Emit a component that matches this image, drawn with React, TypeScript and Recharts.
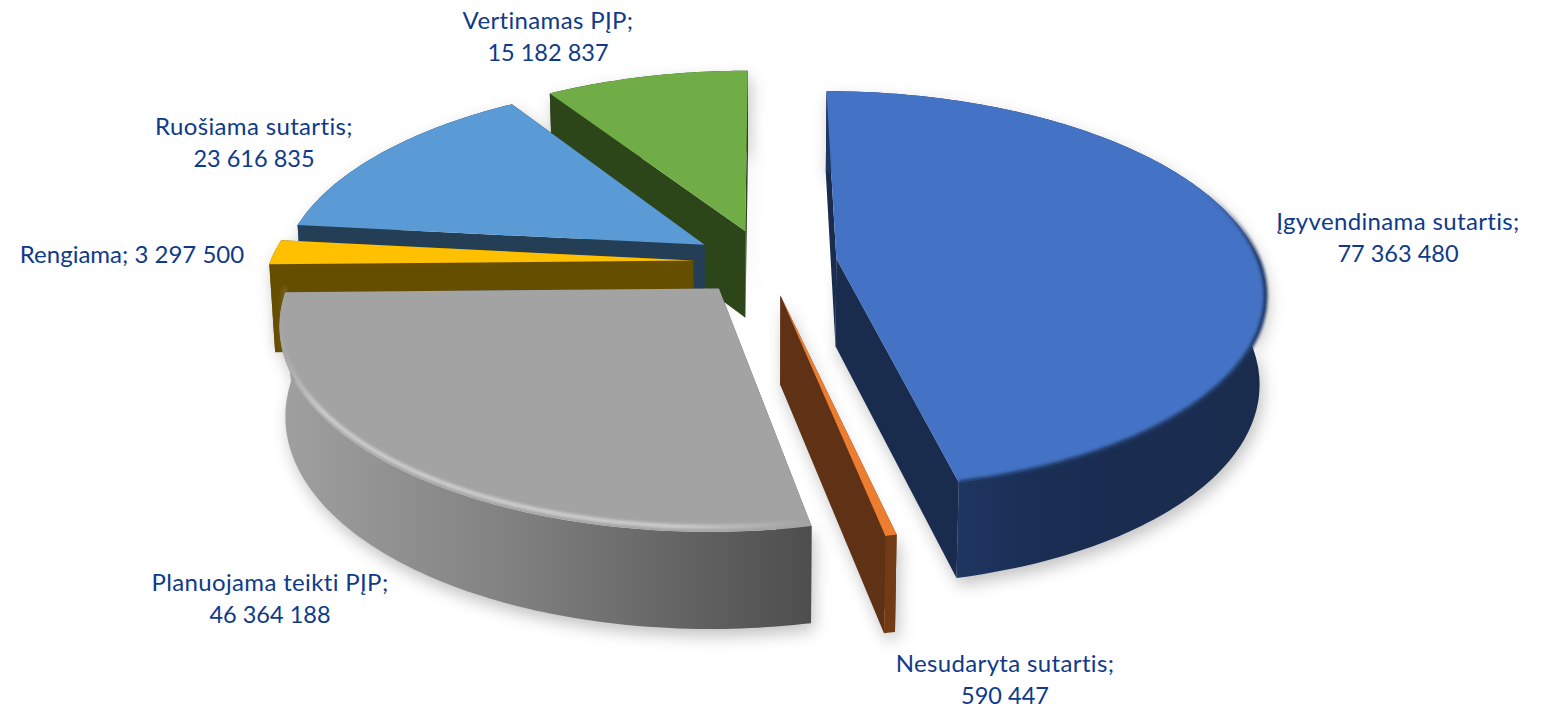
import { Pie, PieChart } from "recharts";

const names = [
  "Vertinamas PĮP",
  "Ruošiama sutartis",
  "Rengiama",
  "Planuojama teikti PĮP",
  "Nesudaryta sutartis",
  "Įgyvendinama sutartis",
];
const values = [15182837, 23616835, 3297500, 46364188, 590447, 77363480];

// look of each slice, by name
const sliceLook: Record<string, { top: string; cut: string; wall: string; rim?: string; rimInset?: number }> = {
  "Vertinamas PĮP": { top: "#70AD47", cut: "#2C4619", wall: "#2C4619" },
  "Ruošiama sutartis": { top: "#5B9BD5", cut: "#243F55", wall: "#243F55" },
  Rengiama: { top: "#FFC000", cut: "#664E00", wall: "#664E00" },
  "Planuojama teikti PĮP": { top: "#A3A3A3", cut: "#4F4F4F", wall: "url(#greyWall)", rim: "url(#greyRim)", rimInset: -5 },
  "Nesudaryta sutartis": { top: "#ED7D31", cut: "#5F3115", wall: "#723B15" },
  "Įgyvendinama sutartis": { top: "#4472C4", cut: "#1A2C4E", wall: "url(#blueWall)", rim: "url(#blueRim)", rimInset: 0 },
};

// label text placement: centre x, baseline y of first line
const labelSpots: Record<string, { x: number; y: number; oneLine?: boolean }> = {
  "Vertinamas PĮP": { x: 548, y: 29 },
  "Ruošiama sutartis": { x: 254, y: 135 },
  Rengiama: { x: 132, y: 263, oneLine: true },
  "Planuojama teikti PĮP": { x: 270, y: 591 },
  "Nesudaryta sutartis": { x: 1005, y: 672 },
  "Įgyvendinama sutartis": { x: 1398, y: 230 },
};

const EXPLODE = 72;
const DEPTH = 88;
const TILT = 0.461;
const PERSPECTIVE = 0.16;
const RAD = Math.PI / 180;

const chartData = names.map((name, i) => ({ name, value: values[i] }));

const fmt = (v: number) => String(v).replace(/\B(?=(\d{3})+$)/g, " ");

// world position on the pie plane -> screen
function project(p: any, X: number, Y: number, drop = 0) {
  const s = 1 / (1 - (PERSPECTIVE * Y) / p.outerRadius);
  const shrink = drop ? 0.988 : 1;
  return [p.cx + X * s * shrink, p.cy + TILT * Y * s + drop * Math.pow(s, 0.5)];
}

function sliceGeometry(p: any) {
  const mid = ((p.startAngle + p.endAngle) / 2) * RAD;
  const ox = EXPLODE * Math.cos(mid);
  const oy = -EXPLODE * Math.sin(mid);
  const steps = Math.max(2, Math.ceil(Math.abs(p.endAngle - p.startAngle)));
  const world: number[][] = [];
  for (let i = 0; i <= steps; i++) {
    const a = (p.startAngle + ((p.endAngle - p.startAngle) * i) / steps) * RAD;
    world.push([ox + p.outerRadius * Math.cos(a), oy - p.outerRadius * Math.sin(a)]);
  }
  const apexTop = project(p, ox, oy);
  const apexBot = project(p, ox, oy, DEPTH);
  const arcTop = world.map(([x, y]) => project(p, x, y));
  const arcBot = world.map(([x, y]) => project(p, x, y, DEPTH));
  return { apexTop, apexBot, arcTop, arcBot };
}

const toPath = (pts: number[][], close = true) =>
  "M" + pts.map((q) => `${q[0].toFixed(1)},${q[1].toFixed(1)}`).join("L") + (close ? "Z" : "");

function ShadowSlice(props: any) {
  const { apexTop, apexBot, arcTop, arcBot } = sliceGeometry(props);
  const outline = [apexTop, ...arcTop, ...[...arcBot].reverse(), apexBot];
  return (
    <path
      d={toPath(outline)}
      fill="#000"
      fillOpacity={0.24}
      filter="url(#softShadow)"
      transform="translate(3 7)"
    />
  );
}

function Slice3D(props: any) {
  const look = sliceLook[props.name];
  const { apexTop, apexBot, arcTop, arcBot } = sliceGeometry(props);
  const n = arcTop.length - 1;
  const cutA = [apexTop, arcTop[0], arcBot[0], apexBot];
  const cutB = [apexTop, arcTop[n], arcBot[n], apexBot];
  const wall = [...arcTop, ...[...arcBot].reverse()];
  return (
    <g>
      <path d={toPath(cutA)} fill={look.cut} />
      <path d={toPath(cutB)} fill={look.cut} />
      <path d={toPath(wall)} fill={look.wall} />
      <path d={toPath([apexTop, ...arcTop])} fill={look.top} />
      {look.rim && (
        <path
          d={toPath(arcTop, false)}
          fill="none"
          stroke={look.rim}
          strokeWidth={4}
          filter="url(#rimBlur)"
          transform={`translate(0 ${look.rimInset ?? 0})`}
        />
      )}
    </g>
  );
}

function SliceLabel(props: any) {
  const spot = labelSpots[props.name];
  const common = {
    fill: "#0F3A8A",
    fontFamily: "Lato, sans-serif",
    fontSize: 24,
    textAnchor: "middle" as const,
    style: { fontVariantLigatures: "none" },
  };
  if (spot.oneLine) {
    return (
      <text x={spot.x} y={spot.y} {...common}>
        {`${props.name}; ${fmt(props.value)}`}
      </text>
    );
  }
  return (
    <text {...common}>
      <tspan x={spot.x} y={spot.y} letterSpacing={0.35}>{`${props.name};`}</tspan>
      <tspan x={spot.x} y={spot.y + 32} fontSize={23.5}>{fmt(props.value)}</tspan>
    </text>
  );
}

export default function App() {
  return (
    <div style={{ position: "absolute", left: 0, top: 0, width: 1547, height: 708 }}>
      <PieChart width={1547} height={708} margin={{ top: 0, right: 0, bottom: 0, left: 0 }}>
        <defs>
          <linearGradient id="greyWall" gradientUnits="userSpaceOnUse" x1="280" y1="0" x2="810" y2="0">
            <stop offset="0" stopColor="#A0A0A0" />
            <stop offset="0.45" stopColor="#808080" />
            <stop offset="1" stopColor="#4E4E4E" />
          </linearGradient>
          <linearGradient id="blueWall" gradientUnits="userSpaceOnUse" x1="950" y1="0" x2="1260" y2="0">
            <stop offset="0" stopColor="#1F3763" />
            <stop offset="0.3" stopColor="#1A2D52" />
            <stop offset="1" stopColor="#1A2C4E" />
          </linearGradient>
          <linearGradient id="greyRim" gradientUnits="userSpaceOnUse" x1="278" y1="0" x2="810" y2="0">
            <stop offset="0" stopColor="#D0D0D0" stopOpacity="0" />
            <stop offset="0.08" stopColor="#D0D0D0" stopOpacity="1" />
            <stop offset="0.75" stopColor="#D0D0D0" stopOpacity="1" />
            <stop offset="1" stopColor="#D0D0D0" stopOpacity="0" />
          </linearGradient>
          <linearGradient id="blueRim" gradientUnits="userSpaceOnUse" x1="0" y1="190" x2="0" y2="260">
            <stop offset="0" stopColor="#1F3763" stopOpacity="0" />
            <stop offset="1" stopColor="#1F3763" stopOpacity="1" />
          </linearGradient>
          <filter id="softShadow" x="-30%" y="-30%" width="160%" height="160%">
            <feGaussianBlur stdDeviation="8" />
          </filter>
          <filter id="rimBlur" filterUnits="userSpaceOnUse" x="0" y="0" width="1547" height="708">
            <feGaussianBlur stdDeviation="1.6" />
          </filter>
        </defs>
        <Pie
          data={chartData}
          dataKey="value"
          nameKey="name"
          cx={765}
          cy={262}
          outerRadius={423}
          startAngle={90}
          endAngle={450}
          stroke="none"
          isAnimationActive={false}
          shape={ShadowSlice}
          inactiveShape={ShadowSlice}
          activeShape={ShadowSlice}
          rootTabIndex={-1}
        />
        <Pie
          data={chartData}
          dataKey="value"
          nameKey="name"
          cx={765}
          cy={262}
          outerRadius={423}
          startAngle={90}
          endAngle={450}
          stroke="none"
          isAnimationActive={false}
          shape={Slice3D}
          inactiveShape={Slice3D}
          activeShape={Slice3D}
          label={SliceLabel}
          labelLine={false}
          rootTabIndex={-1}
        />
      </PieChart>
    </div>
  );
}
